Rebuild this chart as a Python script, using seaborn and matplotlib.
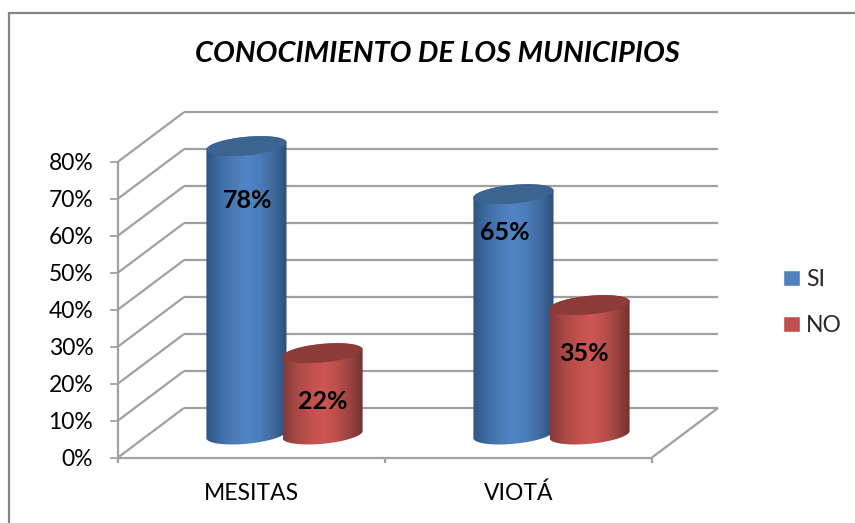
import numpy as np
import pandas as pd
import seaborn as sns
import matplotlib.pyplot as plt
from matplotlib.colors import LinearSegmentedColormap
from matplotlib.lines import Line2D
from matplotlib.patches import PathPatch, Rectangle
from matplotlib.path import Path

# --- DATOS ---
MUNICIPIOS = ['MESITAS', 'VIOTÁ']
SI = [78, 65]
NO = [22, 35]
TICKS = [0, 10, 20, 30, 40, 50, 60, 70, 80]
TITULO = 'CONOCIMIENTO DE LOS MUNICIPIOS'

# --- GEOMETRIA (px de la imagen original) ---
W, H = 855, 523
X0, X1 = 118, 652      # eje x frontal
Y0, Y80 = 457.5, 161.7 # 0% y 80% en el eje frontal
PX_CAT = (X1 - X0) / 2
PX_PCT = (Y0 - Y80) / 80

# profundidad de la pared y de las barras, en unidades de datos
WALL_DX = 66 / PX_CAT
WALL_DY = 49.5 / PX_PCT
BAR_DX = {'SI': 35 / PX_CAT, 'NO': 31 / PX_CAT}
BAR_DY = 23 / PX_PCT
TILT = 3.6 / PX_PCT      # subida del borde derecho de la tapa
CAP_B = 9.3 / PX_PCT     # semieje vertical de la tapa

# etiquetas colocadas a mano: corrimiento desde la tapa (px)
ETIQ_DX = {'SI': [1.5, -9], 'NO': [0.5, -6]}
ETIQ_BAJA = {'SI': [54, 38], 'NO': [48, 48]}

COLORES = {'SI': '#4F81BD', 'NO': '#C0504D'}
GRADIENTES = {
    'SI': ['#2F5583', '#3F6CA3', '#4A7BB6', '#5085C6', '#4B7DB8', '#3F6A9F', '#2E4F7A'],
    'NO': ['#83393A', '#A84845', '#C0504D', '#CD5755', '#BC4F4C', '#9A4341', '#6F302E'],
}
TAPA = {'SI': '#3C6491', 'NO': '#8C3B39'}
GRIS = '#A0A0A0'
MARCO = '#868686'

sns.set_style('white')
plt.rcParams['font.family'] = ['Lato', 'DejaVu Sans']

df = pd.DataFrame({
    'municipio': MUNICIPIOS * 2,
    'respuesta': ['SI'] * len(SI) + ['NO'] * len(NO),
    'valor': SI + NO,
})

fig = plt.figure(figsize=(W / 100, H / 100), dpi=100)
ax = fig.add_axes([X0 / W, 1 - Y0 / H, (X1 - X0) / W, (Y0 - Y80) / H])

sns.barplot(data=df, x='municipio', y='valor', hue='respuesta', order=MUNICIPIOS,
            hue_order=['SI', 'NO'], palette=COLORES, width=0.6, saturation=1,
            errorbar=None, ax=ax, zorder=3)
ax.set_xlim(-0.5, 1.5)
ax.set_ylim(0, 80)
ax.set_xlabel('')
ax.set_ylabel('')
ax.set_yticks(TICKS, [f'{t}%' for t in TICKS], fontsize=16.5, color='black')
ax.set_xticks([0, 1], MUNICIPIOS, fontsize=16.5, color='black')
ax.tick_params(axis='y', left=True, length=5.8, width=1.3, color=GRIS, pad=12)
ax.tick_params(axis='x', bottom=False, pad=14.5)
sns.despine(ax=ax, top=True, right=True, left=True, bottom=True)

sns.move_legend(ax, 'center left', bbox_to_anchor=(783 / W, 1 - 302.5 / H),
                bbox_transform=fig.transFigure, title=None, frameon=False,
                fontsize=16.5, handlelength=0.74, handleheight=0.74,
                labelspacing=1.1, handletextpad=0.26, borderpad=0, borderaxespad=0)


def linea(xs, ys, z=1):
    ax.plot(xs, ys, color=GRIS, lw=1.6, clip_on=False, zorder=z, solid_capstyle='butt')


# paredes y piso en 3D
xa, xb = ax.get_xlim()
for t in TICKS:
    linea([xa, xa + WALL_DX], [t, t + WALL_DY])
    linea([xa + WALL_DX, xb + WALL_DX], [t + WALL_DY, t + WALL_DY])
linea([xa, xa], [0, 80])
linea([xa, xb], [0, 0])
linea([xb, xb + WALL_DX], [0, WALL_DY])
for x in [xa, 0.5, xb]:
    linea([x, x], [0, -5.5 / PX_PCT])


def cilindro(x, ancho, base, alto, clave, z):
    """Cilindro inclinado a partir de la geometria de la barra."""
    cx, a = x + ancho / 2, ancho / 2
    tope = base + alto
    t = np.linspace(0, np.pi, 60)
    arriba = np.c_[cx + a * np.cos(t), tope + TILT * np.cos(t) + CAP_B * np.sin(t)]
    abajo = np.c_[cx - a * np.cos(t), base - TILT * np.cos(t) - CAP_B * np.sin(t)]
    cuerpo = np.vstack([arriba, abajo, arriba[:1]])
    clip = PathPatch(Path(cuerpo), transform=ax.transData, fc='none', ec='none')
    ax.add_patch(clip)

    grad = LinearSegmentedColormap.from_list(clave, GRADIENTES[clave])
    im = ax.imshow(np.linspace(0, 1, 128)[None, :], cmap=grad, aspect='auto', zorder=z,
                   extent=[cx - a, cx + a, base - CAP_B * 1.5, tope + CAP_B * 1.5])
    im.set_clip_path(clip)
    im.set_clip_box(fig.bbox)  # la barra alta sobresale de los ejes frontales

    s = np.linspace(0, 2 * np.pi, 120)
    tapa = np.c_[cx + a * np.cos(s), tope + TILT * np.cos(s) + CAP_B * np.sin(s)]
    ax.fill(tapa[:, 0], tapa[:, 1], color=TAPA[clave], lw=0, zorder=z + 1, clip_on=False)


# las barras de seaborn se desplazan a la profundidad y se visten de cilindro
barras = [p for p in ax.patches if isinstance(p, Rectangle) and p.get_height() > 0]
claves = ['SI', 'SI', 'NO', 'NO']
for i, (bar, clave) in enumerate(zip(barras, claves)):
    x, ancho, alto = bar.get_x(), bar.get_width(), bar.get_height()
    bar.set_visible(False)
    z = 4 if clave == 'SI' else 6
    cilindro(x + BAR_DX[clave], ancho, BAR_DY, alto, clave, z)
    j = i % 2
    ax.text(x + ancho / 2 + BAR_DX[clave] + ETIQ_DX[clave][j] / PX_CAT,
            BAR_DY + alto - ETIQ_BAJA[clave][j] / PX_PCT, f'{alto:.0f}%',
            ha='center', va='center', fontsize=18, fontweight='bold',
            color='black', zorder=9, clip_on=False)
ax.set_xlim(xa, xb)
ax.set_ylim(0, 80)

fig.text(437.5 / W, 1 - 54 / H, TITULO, ha='center', va='center', fontsize=20.9,
         fontweight='bold', fontstyle='italic', color='black')

# marco del grafico, cortado por la derecha y por abajo
fig.add_artist(Line2D([9 / W, 9 / W], [0, 1 - 13 / H], color=MARCO, lw=1.6))
fig.add_artist(Line2D([9 / W, 1], [1 - 13 / H, 1 - 13 / H], color=MARCO, lw=1.6))

fig.savefig('out.png', dpi=100)
